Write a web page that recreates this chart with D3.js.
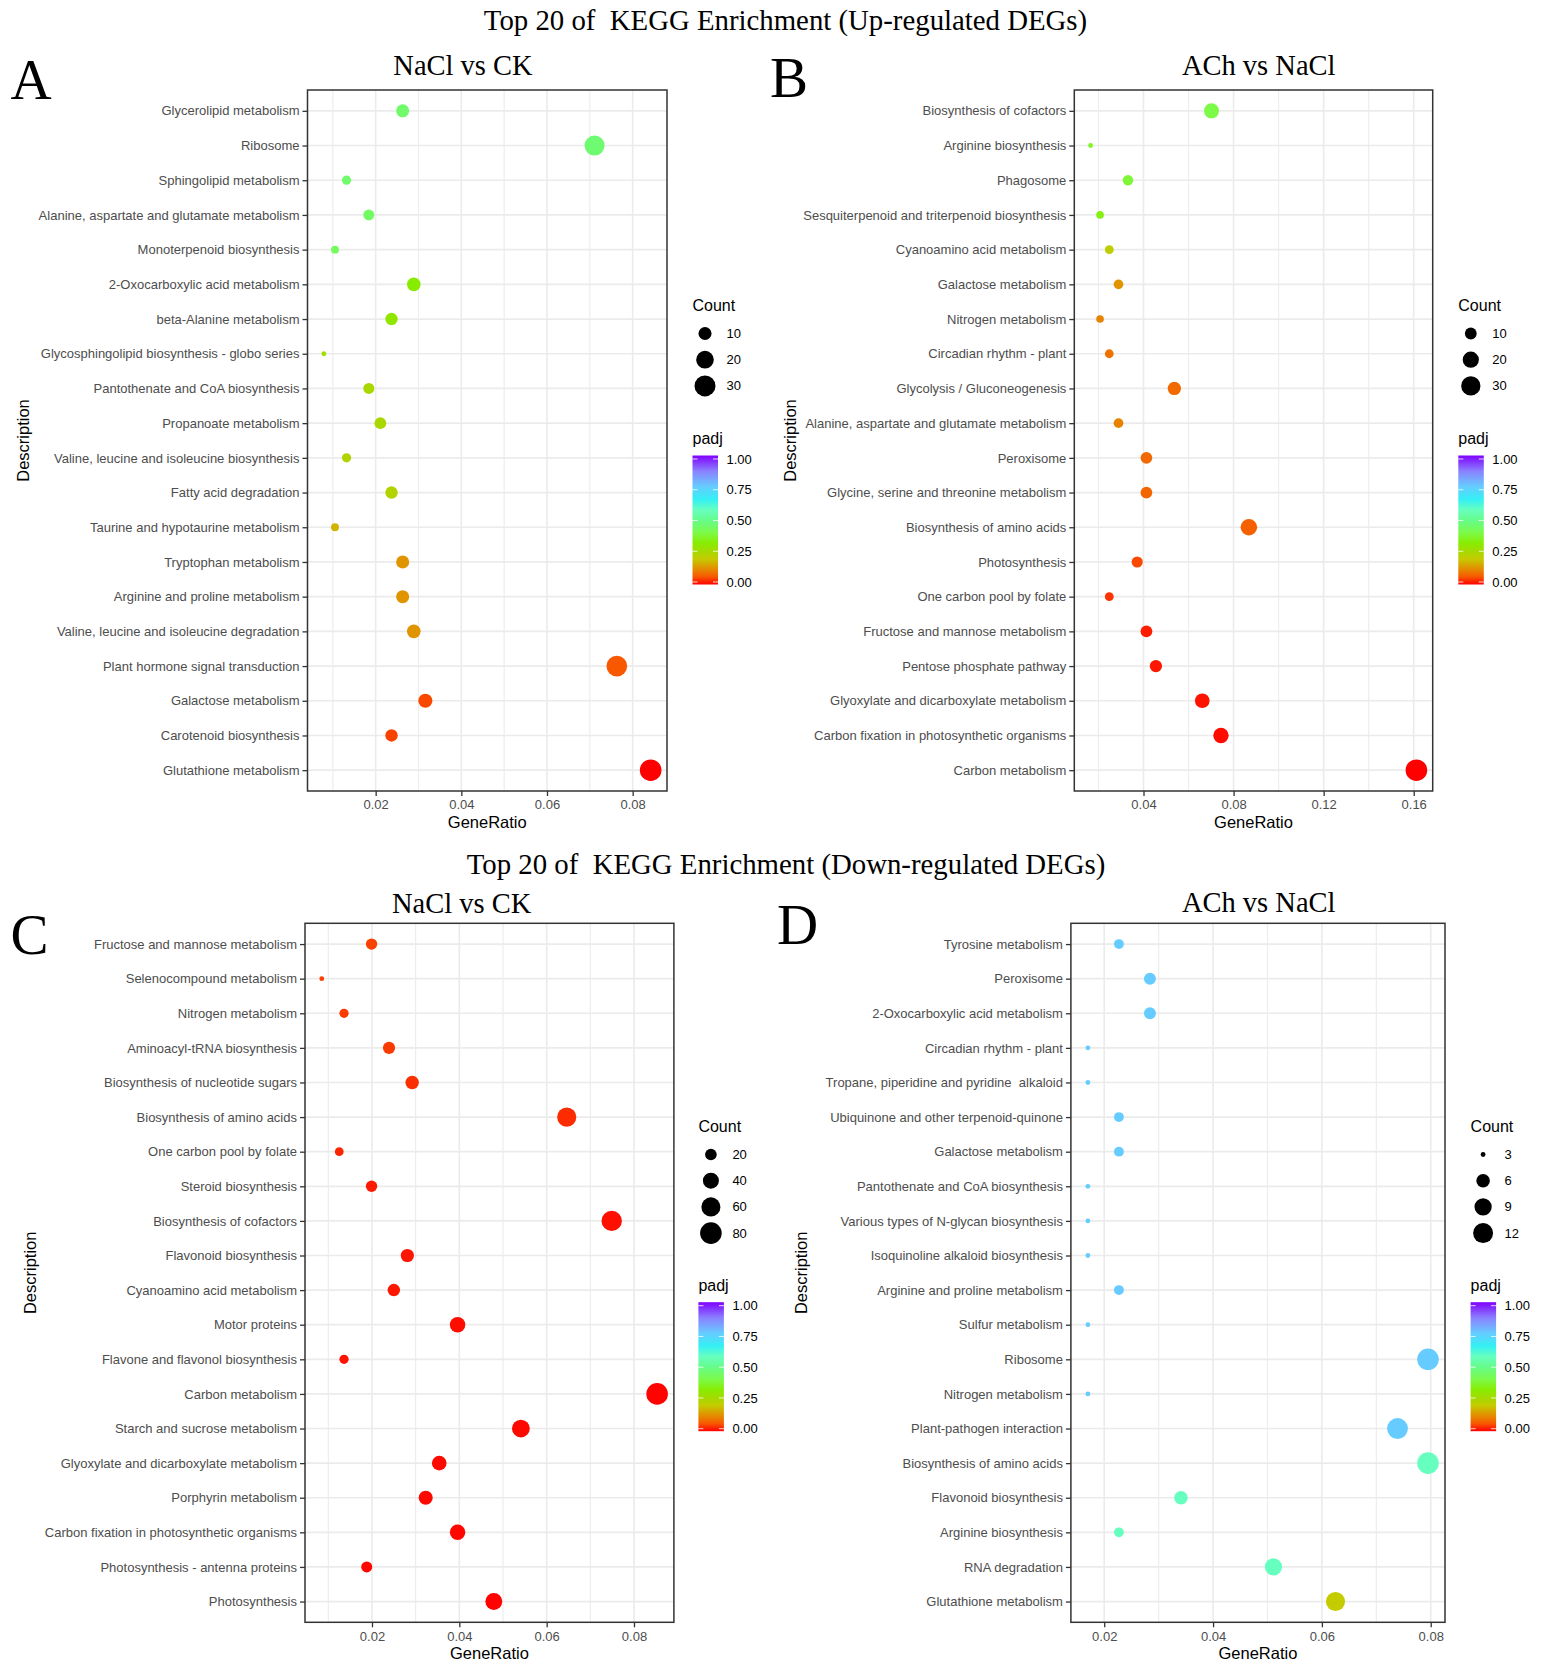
<!DOCTYPE html>
<html>
<head>
<meta charset="utf-8">
<script src="https://cdn.jsdelivr.net/npm/d3@7"></script>
<style>
  body { margin: 0; background: #fff; }
  text { font-family: "Liberation Sans", Arial, sans-serif; }
  .serif { font-family: "Liberation Serif", "Times New Roman", serif; }
</style>
</head>
<body>
<svg id="fig" width="1541" height="1669"></svg>
<script>
// ---- panel A : NaCl vs CK (up) ----
const aTerms = ["Glycerolipid metabolism", "Ribosome", "Sphingolipid metabolism",
  "Alanine, aspartate and glutamate metabolism", "Monoterpenoid biosynthesis",
  "2-Oxocarboxylic acid metabolism", "beta-Alanine metabolism",
  "Glycosphingolipid biosynthesis - globo series", "Pantothenate and CoA biosynthesis",
  "Propanoate metabolism", "Valine, leucine and isoleucine biosynthesis", "Fatty acid degradation",
  "Taurine and hypotaurine metabolism", "Tryptophan metabolism", "Arginine and proline metabolism",
  "Valine, leucine and isoleucine degradation", "Plant hormone signal transduction",
  "Galactose metabolism", "Carotenoid biosynthesis", "Glutathione metabolism"];
const aRatio = [0.0263, 0.0711, 0.0132, 0.0184, 0.0105, 0.0289, 0.0237, 0.0079, 0.0184, 0.0211,
  0.0132, 0.0237, 0.0105, 0.0263, 0.0263, 0.0289, 0.0763, 0.0316, 0.0237, 0.0842];
const aCount = [10, 27, 5, 7, 4, 11, 9, 3, 7, 8, 5, 9, 4, 10, 10, 11, 29, 12, 9, 32];
const aPadj = [0.45, 0.46, 0.45, 0.44, 0.43, 0.32, 0.30, 0.28, 0.25, 0.25,
  0.23, 0.23, 0.17, 0.13, 0.13, 0.13, 0.06, 0.05, 0.045, 0.0];

// ---- panel B : ACh vs NaCl (up) ----
const bTerms = ["Biosynthesis of cofactors", "Arginine biosynthesis", "Phagosome",
  "Sesquiterpenoid and triterpenoid biosynthesis", "Cyanoamino acid metabolism",
  "Galactose metabolism", "Nitrogen metabolism", "Circadian rhythm - plant",
  "Glycolysis / Gluconeogenesis", "Alanine, aspartate and glutamate metabolism", "Peroxisome",
  "Glycine, serine and threonine metabolism", "Biosynthesis of amino acids", "Photosynthesis",
  "One carbon pool by folate", "Fructose and mannose metabolism", "Pentose phosphate pathway",
  "Glyoxylate and dicarboxylate metabolism", "Carbon fixation in photosynthetic organisms",
  "Carbon metabolism"];
const bRatio = [0.0702, 0.0165, 0.0331, 0.0207, 0.0248, 0.0289, 0.0207, 0.0248, 0.0537, 0.0289,
  0.0413, 0.0413, 0.0868, 0.0372, 0.0248, 0.0413, 0.0455, 0.0661, 0.0744, 0.1612];
const bCount = [17, 4, 8, 5, 6, 7, 5, 6, 13, 7, 10, 10, 21, 9, 6, 10, 11, 16, 18, 39];
const bPadj = [0.40, 0.36, 0.38, 0.34, 0.21, 0.13, 0.11, 0.09, 0.08, 0.11,
  0.08, 0.075, 0.07, 0.05, 0.035, 0.02, 0.015, 0.012, 0.008, 0.0];

// ---- panel C : NaCl vs CK (down) ----
const cTerms = ["Fructose and mannose metabolism", "Selenocompound metabolism", "Nitrogen metabolism",
  "Aminoacyl-tRNA biosynthesis", "Biosynthesis of nucleotide sugars", "Biosynthesis of amino acids",
  "One carbon pool by folate", "Steroid biosynthesis", "Biosynthesis of cofactors",
  "Flavonoid biosynthesis", "Cyanoamino acid metabolism", "Motor proteins",
  "Flavone and flavonol biosynthesis", "Carbon metabolism", "Starch and sucrose metabolism",
  "Glyoxylate and dicarboxylate metabolism", "Porphyrin metabolism",
  "Carbon fixation in photosynthetic organisms", "Photosynthesis - antenna proteins", "Photosynthesis"];
const cRatio = [0.0199, 0.0085, 0.0136, 0.0239, 0.0292, 0.0646, 0.0125, 0.0199, 0.0749, 0.0281,
  0.0250, 0.0396, 0.0136, 0.0853, 0.0541, 0.0354, 0.0323, 0.0396, 0.0188, 0.0479];
const cCount = [19, 8, 13, 22, 27, 61, 12, 19, 70, 26, 23, 37, 13, 80, 51, 33, 30, 37, 18, 45];
const cPadj = [0.045, 0.043, 0.04, 0.04, 0.033, 0.03, 0.025, 0.018, 0.01, 0.015,
  0.015, 0.008, 0.012, 0.002, 0.006, 0.006, 0.006, 0.004, 0.004, 0.001];

// ---- panel D : ACh vs NaCl (down) ----
const dTerms = ["Tyrosine metabolism", "Peroxisome", "2-Oxocarboxylic acid metabolism",
  "Circadian rhythm - plant", "Tropane, piperidine and pyridine  alkaloid",
  "Ubiquinone and other terpenoid-quinone", "Galactose metabolism",
  "Pantothenate and CoA biosynthesis", "Various types of N-glycan biosynthesis",
  "Isoquinoline alkaloid biosynthesis", "Arginine and proline metabolism", "Sulfur metabolism",
  "Ribosome", "Nitrogen metabolism", "Plant-pathogen interaction", "Biosynthesis of amino acids",
  "Flavonoid biosynthesis", "Arginine biosynthesis", "RNA degradation", "Glutathione metabolism"];
const dRatio = [0.0227, 0.0284, 0.0284, 0.0170, 0.0170, 0.0227, 0.0227, 0.0170, 0.0170, 0.0170,
  0.0227, 0.0170, 0.0795, 0.0170, 0.0739, 0.0795, 0.0341, 0.0227, 0.0511, 0.0625];
const dCount = [4, 5, 5, 3, 3, 4, 4, 3, 3, 3, 4, 3, 14, 3, 13, 14, 6, 4, 9, 11];
const dPadj = [0.76, 0.76, 0.76, 0.76, 0.76, 0.76, 0.76, 0.76, 0.76, 0.76,
  0.76, 0.76, 0.76, 0.76, 0.76, 0.58, 0.58, 0.58, 0.58, 0.20];

// ticks and legend breaks
const ticksSmall = [0.02, 0.04, 0.06, 0.08];
const ticksWide = [0.04, 0.08, 0.12, 0.16];
const sizeBreaksUp = [10, 20, 30];
const sizeBreaksC = [20, 40, 60, 80];
const sizeBreaksD = [3, 6, 9, 12];
const padjBreaks = [0, 0.25, 0.5, 0.75, 1];

const upTitle = "Top 20 of  KEGG Enrichment (Up-regulated DEGs)";
const downTitle = "Top 20 of  KEGG Enrichment (Down-regulated DEGs)";

// colour ramp for padj
const rampPos = [0, 0.06, 0.12, 0.20, 0.25, 0.32, 0.40, 0.50, 0.58, 0.66, 0.76, 0.88, 1];
const rampCol = ["#ff0000", "#f85800", "#e48c00", "#c4cc00", "#a8d800", "#88ec00", "#7cfa48",
  "#66fc8c", "#66ffc0", "#34f0f4", "#66ccff", "#8a80ff", "#8000ff"];
const colour = d3.scaleLinear().domain(rampPos).range(rampCol).interpolate(d3.interpolateRgb);

const svg = d3.select("#fig");
const defs = svg.append("defs");

const grad = defs.append("linearGradient").attr("id", "padjGrad")
  .attr("x1", 0).attr("y1", 1).attr("x2", 0).attr("y2", 0);
rampPos.forEach((p, i) => grad.append("stop").attr("offset", p).attr("stop-color", rampCol[i]));

// page titles
svg.append("text").attr("class", "serif").attr("x", 785.5).attr("y", 29.5)
  .attr("text-anchor", "middle").style("font-size", "28.8px").style("white-space", "pre")
  .text(upTitle);
svg.append("text").attr("class", "serif").attr("x", 786).attr("y", 873.5)
  .attr("text-anchor", "middle").style("font-size", "28.8px").style("white-space", "pre")
  .text(downTitle);

const panels = [
  {terms: aTerms, ratio: aRatio, count: aCount, padj: aPadj, ticks: ticksSmall, sizes: sizeBreaksUp,
   box: [307.5, 667, 90, 791], title: "NaCl vs CK", tx: 463, ty: 75,
   letter: "A", lx: 10.5, ly: 99.3, descX: 29, legX: 692.5, countY: 311, padjY: 444},
  {terms: bTerms, ratio: bRatio, count: bCount, padj: bPadj, ticks: ticksWide, sizes: sizeBreaksUp,
   box: [1074.3, 1432.7, 90, 791], title: "ACh vs NaCl", tx: 1258.7, ty: 75,
   letter: "B", lx: 770, ly: 97, descX: 796, legX: 1458.3, countY: 311, padjY: 444},
  {terms: cTerms, ratio: cRatio, count: cCount, padj: cPadj, ticks: ticksSmall, sizes: sizeBreaksC,
   box: [305, 673.9, 923.3, 1622.3], title: "NaCl vs CK", tx: 461.6, ty: 912.5,
   letter: "C", lx: 10.5, ly: 954, descX: 36, legX: 698.4, countY: 1132, padjY: 1290.7},
  {terms: dTerms, ratio: dRatio, count: dCount, padj: dPadj, ticks: ticksSmall, sizes: sizeBreaksD,
   box: [1070.9, 1445, 923.3, 1622.3], title: "ACh vs NaCl", tx: 1258.7, ty: 911.7,
   letter: "D", lx: 777, ly: 944, descX: 806.5, legX: 1470.6, countY: 1132, padjY: 1290.7}
];

panels.forEach(p => {
  const [x0, x1, y0, y1] = p.box;
  const rows = p.terms.map((t, i) => ({term: t, ratio: p.ratio[i], count: p.count[i], padj: p.padj[i]}));

  // ggplot-like 5% expansion
  const ext = d3.extent(p.ratio);
  const pad = (ext[1] - ext[0]) * 0.05;
  const x = d3.scaleLinear().domain([ext[0] - pad, ext[1] + pad]).range([x0, x1]);
  const y = d3.scalePoint().domain(p.terms).range([y0, y1]).padding(0.6);

  const cExt = d3.extent(p.count);
  const rs = d3.scaleLinear().domain([0, 1]).range([2.4, 10.8]);
  const radius = c => rs(Math.sqrt((c - cExt[0]) / (cExt[1] - cExt[0])));

  // panel titles
  svg.append("text").attr("class", "serif").attr("x", p.tx).attr("y", p.ty)
    .attr("text-anchor", "middle").style("font-size", "28.5px").text(p.title);
  svg.append("text").attr("class", "serif").attr("x", p.lx).attr("y", p.ly)
    .style("font-size", "57px").text(p.letter);

  // grid
  const step = p.ticks[1] - p.ticks[0];
  const minor = [p.ticks[0] - step / 2].concat(p.ticks.map(t => t + step / 2))
    .filter(v => x(v) > x0 && x(v) < x1);
  const g = svg.append("g");
  g.selectAll(".minor").data(minor).enter().append("line")
    .attr("x1", d => x(d)).attr("x2", d => x(d)).attr("y1", y0).attr("y2", y1)
    .attr("stroke", "#ededed").attr("stroke-width", 1.2);
  g.selectAll(".vmajor").data(p.ticks).enter().append("line")
    .attr("x1", d => x(d)).attr("x2", d => x(d)).attr("y1", y0).attr("y2", y1)
    .attr("stroke", "#ebebeb").attr("stroke-width", 1.6);
  g.selectAll(".hmajor").data(p.terms).enter().append("line")
    .attr("x1", x0).attr("x2", x1).attr("y1", d => y(d)).attr("y2", d => y(d))
    .attr("stroke", "#ebebeb").attr("stroke-width", 1.7);

  // points
  svg.append("g").selectAll("circle").data(rows).enter().append("circle")
    .attr("cx", d => x(d.ratio)).attr("cy", d => y(d.term))
    .attr("r", d => radius(d.count)).attr("fill", d => colour(d.padj));

  // border
  svg.append("rect").attr("x", x0).attr("y", y0).attr("width", x1 - x0).attr("height", y1 - y0)
    .attr("fill", "none").attr("stroke", "#333").attr("stroke-width", 1.5);

  // axes
  const xa = svg.append("g").attr("transform", "translate(0," + y1 + ")")
    .call(d3.axisBottom(x).tickValues(p.ticks).tickFormat(d3.format(".2f")).tickSize(5).tickPadding(4));
  const ya = svg.append("g").attr("transform", "translate(" + x0 + ",0)")
    .call(d3.axisLeft(y).tickSize(5).tickPadding(3));
  [xa, ya].forEach(a => {
    a.select(".domain").remove();
    a.selectAll(".tick line").attr("stroke", "#333").attr("stroke-width", 1.3);
    a.selectAll(".tick text").attr("fill", "#4d4d4d")
      .style("font-family", '"Liberation Sans", Arial, sans-serif').style("font-size", "13px")
      .style("white-space", "pre");
  });

  // axis titles
  svg.append("text").attr("x", (x0 + x1) / 2).attr("y", y1 + 37)
    .attr("text-anchor", "middle").style("font-size", "16.5px").text("GeneRatio");
  svg.append("text").attr("transform", "translate(" + p.descX + "," + (y0 + y1) / 2 + ") rotate(-90)")
    .attr("text-anchor", "middle").style("font-size", "16.5px").text("Description");

  // size legend
  const L = p.legX;
  svg.append("text").attr("x", L).attr("y", p.countY).style("font-size", "16px").text("Count");
  const sl = svg.append("g").selectAll("g").data(p.sizes).enter().append("g")
    .attr("transform", (d, i) => "translate(0," + (p.countY + 22.5 + i * 26.2) + ")");
  sl.append("circle").attr("cx", L + 12.5).attr("cy", 0).attr("r", d => radius(d)).attr("fill", "#000");
  sl.append("text").attr("x", L + 34).attr("y", 0).attr("dy", "0.35em")
    .style("font-size", "13px").text(d => d);

  // colour bar
  svg.append("text").attr("x", L).attr("y", p.padjY).style("font-size", "16px").text("padj");
  const barTop = p.padjY + 11.5;
  const bv = d3.scaleLinear().domain([0, 1]).range([barTop + 126.5, barTop + 3.5]);
  svg.append("rect").attr("x", L).attr("y", barTop).attr("width", 25.5).attr("height", 129)
    .attr("fill", "url(#padjGrad)");
  const bt = svg.append("g").selectAll("g").data(padjBreaks).enter().append("g");
  bt.append("line").attr("x1", L).attr("x2", L + 5).attr("y1", d => bv(d)).attr("y2", d => bv(d))
    .attr("stroke", "#fff").attr("stroke-opacity", 0.8);
  bt.append("line").attr("x1", L + 20.5).attr("x2", L + 25.5).attr("y1", d => bv(d)).attr("y2", d => bv(d))
    .attr("stroke", "#fff").attr("stroke-opacity", 0.8);
  bt.append("text").attr("x", L + 34).attr("y", d => bv(d)).attr("dy", "0.35em")
    .style("font-size", "13px").text(d => d3.format(".2f")(d));
});
</script>
</body>
</html>
